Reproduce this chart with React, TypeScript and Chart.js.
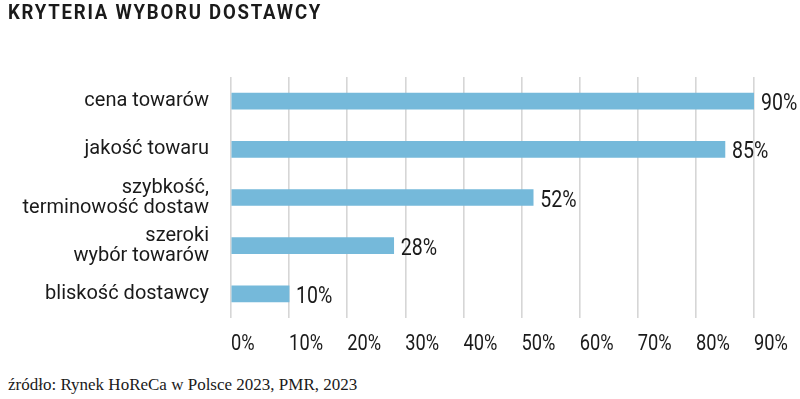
import React, { useEffect, useRef } from "react";
import { Chart, registerables } from "chart.js";

Chart.register(...registerables);

const title = "KRYTERIA WYBORU DOSTAWCY";
const source = "źródło: Rynek HoReCa w Polsce 2023, PMR, 2023";
const categories: (string | string[])[] = [
  "cena towarów",
  "jakość towaru",
  ["szybkość,", "terminowość dostaw"],
  ["szeroki", "wybór towarów"],
  "bliskość dostawcy",
];
const values = [90, 85, 52, 28, 10];
const tickValues = [0, 10, 20, 30, 40, 50, 60, 70, 80, 90];

const NARROW_SCALE = 0.85;

function drawNarrow(ctx: any, text: string, x: number, y: number, size: number) {
  ctx.save();
  ctx.font = `${size}px Roboto`;
  ctx.fillStyle = "#1a1a1a";
  ctx.textAlign = "left";
  ctx.textBaseline = "alphabetic";
  ctx.translate(x, y);
  ctx.scale(NARROW_SCALE, 1);
  ctx.fillText(text, 0, 0);
  ctx.restore();
}

export default function App() {
  const ref = useRef<HTMLCanvasElement | null>(null);

  useEffect(() => {
    if (!ref.current) return;
    const labelsPlugin = {
      id: "narrowLabels",
      afterDatasetsDraw(chart: any) {
        const ctx = chart.ctx;
        const meta = chart.getDatasetMeta(0);
        meta.data.forEach((bar: any, i: number) => {
          drawNarrow(ctx, values[i] + "%", bar.x + 7, bar.y + 9, 23);
        });
      },
      afterDraw(chart: any) {
        const ctx = chart.ctx;
        const xs = chart.scales.x;
        tickValues.forEach((v) => {
          drawNarrow(ctx, v + "%", xs.getPixelForValue(v), 350, 21.5);
        });
      },
    };
    const chart = new Chart(ref.current, {
      type: "bar",
      data: {
        labels: categories,
        datasets: [
          {
            data: values,
            backgroundColor: "#75b9da",
            borderWidth: 0,
            barThickness: 16,
          },
        ],
      },
      options: {
        indexAxis: "y",
        responsive: false,
        animation: false,
        layout: { padding: { top: 77, right: 46, left: 0, bottom: 0 } },
        plugins: { legend: { display: false }, tooltip: { enabled: false } },
        scales: {
          x: {
            min: 0,
            max: 90,
            afterBuildTicks(scale: any) {
              scale.ticks = tickValues.map((v) => ({ value: v }));
            },
            afterFit(scale: any) {
              scale.height = 365 - 318;
              scale.paddingLeft = 0;
              scale.paddingRight = 0;
            },
            border: { display: false },
            grid: { color: "#d6d6d6", lineWidth: 1.6, drawTicks: false },
            ticks: { display: false },
          },
          y: {
            afterFit(scale: any) {
              scale.width = 231;
            },
            border: { display: false },
            grid: { display: false, drawTicks: false },
            ticks: {
              padding: 22,
              color: "#1a1a1a",
              font: { family: "Roboto", size: 20, lineHeight: 1.0 },
            },
          },
        },
      },
      plugins: [labelsPlugin],
    });
    return () => chart.destroy();
  }, []);

  return (
    <div style={{ position: "absolute", left: 0, top: 0, width: 800, height: 399, background: "#fff", overflow: "hidden" }}>
      <canvas ref={ref} width={800} height={365} style={{ position: "absolute", left: 0, top: 0 }} />
      <div
        style={{
          position: "absolute",
          left: 8,
          top: 0,
          fontFamily: "Roboto, sans-serif",
          fontWeight: "bold",
          fontSize: 21,
          letterSpacing: 2,
          color: "#1a1a1a",
          lineHeight: "24px",
          whiteSpace: "nowrap",
          transform: "scaleX(0.885)",
          transformOrigin: "left top",
        }}
      >
        {title}
      </div>
      <div
        style={{
          position: "absolute",
          left: 8,
          top: 375,
          fontFamily: '"Liberation Serif", serif',
          fontSize: 17,
          color: "#1a1a1a",
          lineHeight: "20px",
          whiteSpace: "nowrap",
        }}
      >
        {source}
      </div>
    </div>
  );
}
